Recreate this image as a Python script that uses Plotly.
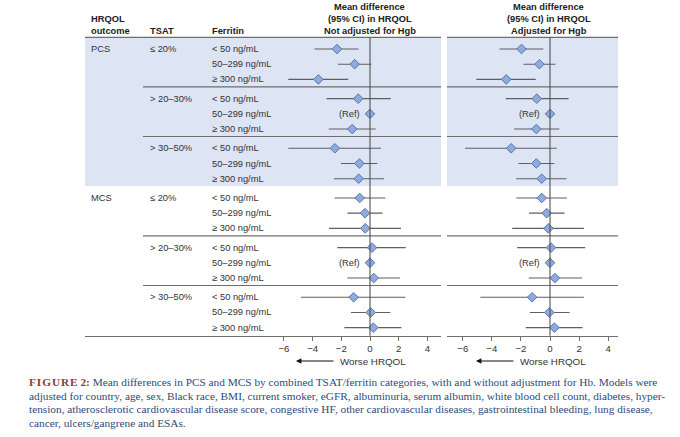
import plotly.graph_objects as go

W, H = 680, 437

# ---------------- data ----------------
outcomes = ["PCS", "MCS"]
tsat_labels = ["≤ 20%", "> 20–30%", "> 30–50%"]
ferritin_labels = ["< 50 ng/mL", "50–299 ng/mL", "≥ 300 ng/mL"]
ref_rows = [4, 13]  # TSAT >20–30%, ferritin 50–299 (reference) for PCS and MCS

# Not adjusted for Hgb (18 rows: PCS 9 rows, then MCS 9 rows)
unadj_est = [-2.30, -1.07, -3.60, -0.82, 0.00, -1.24, -2.45, -0.74, -0.79,
             -0.72, -0.35, -0.33, 0.14, 0.00, 0.26, -1.14, 0.05, 0.23]
unadj_lo = [-3.87, -2.24, -5.70, -3.03, 0.00, -2.87, -5.70, -2.03, -2.52,
            -2.47, -1.58, -2.86, -2.28, 0.00, -1.58, -4.81, -1.33, -1.79]
unadj_hi = [-0.80, 0.09, -1.52, 1.45, 0.00, 0.40, 0.77, 0.51, 0.98,
            1.07, 0.88, 2.16, 2.49, 0.00, 2.09, 2.47, 1.42, 2.19]

# Adjusted for Hgb
adj_est = [-1.96, -0.73, -3.01, -0.91, 0.00, -0.94, -2.67, -0.94, -0.57,
           -0.57, -0.23, -0.11, 0.07, 0.00, 0.34, -1.23, -0.05, 0.30]
adj_lo = [-3.47, -1.83, -5.07, -3.04, 0.00, -2.47, -5.84, -2.17, -2.33,
          -2.31, -1.44, -2.60, -2.26, 0.00, -1.46, -4.79, -1.39, -1.67]
adj_hi = [-0.46, 0.37, -0.98, 1.28, 0.00, 0.64, 0.46, 0.30, 1.14,
          1.16, 1.00, 2.33, 2.42, 0.00, 2.21, 2.33, 1.35, 2.24]

tick_vals = [-6, -4, -2, 0, 2, 4]
panel_titles = [["Mean difference", "(95% CI) in HRQOL", "Not adjusted for Hgb"],
                ["Mean difference", "(95% CI) in HRQOL", "Adjusted for Hgb"]]
caption_lines = [
    "Mean differences in PCS and MCS by combined TSAT/ferritin categories, with and without adjustment for Hb. Models were",
    "adjusted for country, age, sex, Black race, BMI, current smoker, eGFR, albuminuria, serum albumin, white blood cell count, diabetes, hyper-",
    "tension, atherosclerotic cardiovascular disease score, congestive HF, other cardiovascular diseases, gastrointestinal bleeding, lung disease,",
    "cancer, ulcers/gangrene and ESAs.",
]

# ---------------- layout constants (pixels) ----------------
SANS = "Liberation Sans, Arial, sans-serif"
SERIF = "Liberation Serif, Times New Roman, serif"
FS = 9.3
TXT = "#333333"
LINE = "#6e6e6e"
SHADE = "#dde4f3"
FILL = "#8fabdc"
EDGE = "#5676b2"

row0, row_step, grp_step = 49.0, 15.2, 49.65
top_line, axis_y = 37.3, 335.7
shade_bottom = 186.0
L0, L1, Lzero, Lppu = 85.0, 441.0, 370.0, 14.34
R0, R1, Rzero, Rppu = 447.0, 618.0, 550.0, 14.54
x_outcome, x_tsat, x_ferr = 89.0, 147.7, 210.0
x_sep = 143.0

n = len(unadj_est)
row_y = [row0 + (i // 3) * grp_step + (i % 3) * row_step for i in range(n)]


def px(x):
    return x / W


fig = go.Figure()

for est, lo, hi, xa in [(unadj_est, unadj_lo, unadj_hi, "x"), (adj_est, adj_lo, adj_hi, "x2")]:
    fig.add_trace(go.Scatter(
        x=est, y=row_y, xaxis=xa, yaxis="y", mode="markers",
        marker=dict(symbol="diamond", size=7.4, color=FILL, line=dict(color=EDGE, width=1)),
        error_x=dict(type="data", symmetric=False,
                     array=[h - e for h, e in zip(hi, est)],
                     arrayminus=[e - l for e, l in zip(est, lo)],
                     width=0, thickness=1.1, color="#5f5f5f"),
        hoverinfo="skip", showlegend=False, cliponaxis=False,
    ))

shapes = []
# shading of PCS block
for a, b in [(L0, L1), (R0, R1)]:
    shapes.append(dict(type="rect", xref="paper", yref="y", x0=px(a), x1=px(b),
                       y0=top_line, y1=shade_bottom, fillcolor=SHADE, line=dict(width=0), layer="below"))
    shapes.append(dict(type="line", xref="paper", yref="y", x0=px(a), x1=px(b),
                       y0=top_line, y1=top_line, line=dict(color=LINE, width=1.2)))
# separators between TSAT groups (within each outcome)
for g in range(5):
    if g == 2:
        continue
    ys = row0 + g * grp_step + 2 * row_step + 7.5
    for a, b in [(x_sep, L1), (R0, R1)]:
        shapes.append(dict(type="line", xref="paper", yref="y", x0=px(a), x1=px(b),
                           y0=ys, y1=ys, line=dict(color=LINE, width=1.1)))
# zero lines
for xr in ["x", "x2"]:
    shapes.append(dict(type="line", xref=xr, yref="y", x0=0, x1=0, y0=top_line, y1=axis_y,
                       line=dict(color="#505050", width=1.1)))

ann = []
def text(x, y, t, anchor="left", bold=False, size=FS, color=TXT, xref="paper", **kw):
    ann.append(dict(x=x, y=y, xref=xref, yref="y", text=f"<b>{t}</b>" if bold else t,
                    showarrow=False, xanchor=anchor, yanchor="middle",
                    font=dict(family=SANS, size=size, color=color), **kw))

# column headers
text(px(x_outcome), 19, "HRQOL", bold=True, color="#222")
text(px(x_outcome), 31, "outcome", bold=True, color="#222")
text(px(x_tsat), 31, "TSAT", bold=True, color="#222")
text(px(x_ferr), 31, "Ferritin", bold=True, color="#222")
for zero, titles in [(Lzero, panel_titles[0]), (Rzero - 1.5, panel_titles[1])]:
    for k, t in enumerate(titles):
        text(px(zero), 7.3 + 12 * k, t, anchor="center", bold=True, color="#222")

# row labels
for i in range(n):
    if i % 9 == 0:
        text(px(x_outcome), row_y[i], outcomes[i // 9])
    if i % 3 == 0:
        text(px(x_tsat), row_y[i], tsat_labels[(i // 3) % 3])
    text(px(x_ferr), row_y[i], ferritin_labels[i % 3])
for i in ref_rows:
    for xr in ["x", "x2"]:
        text(0, row_y[i], "(Ref)", anchor="right", xref=xr, xshift=-8.5)

# "Worse HRQOL" arrows
for zero in [Lzero, Rzero]:
    ann.append(dict(x=px(zero - 74), y=361, xref="paper", yref="y", text="", showarrow=True,
                    ax=39, ay=0, axref="pixel", ayref="pixel", arrowhead=2, arrowsize=0.9,
                    arrowwidth=1.2, arrowcolor="#111"))
    text(px(zero - 32), 361, "Worse HRQOL", size=9.8)

# caption
HS = "\u200a"
fig_label = HS.join("FIGURE") + " 2:"
cap_y = [382, 395.5, 409, 422.5]
for k, line in enumerate(caption_lines):
    t = line
    if k == 0:
        t = f"<span style='color:#8a3b3b'><b>{fig_label}</b></span> " + line
    ann.append(dict(x=px(27), y=cap_y[k], xref="paper", yref="y", text=t, showarrow=False,
                    xanchor="left", yanchor="middle",
                    font=dict(family=SERIF, size=11.3, color="#2d4b7b")))

axis_common = dict(showgrid=False, zeroline=False, showline=True, linecolor=LINE, linewidth=1.1,
                   ticks="outside", ticklen=4, tickcolor=LINE, tickwidth=1,
                   tickvals=tick_vals, tickfont=dict(family=SANS, size=9.6, color=TXT),
                   anchor="free", position=(H - axis_y) / H, fixedrange=True)

fig.update_layout(
    width=W, height=H, margin=dict(l=0, r=0, t=0, b=0),
    paper_bgcolor="white", plot_bgcolor="rgba(0,0,0,0)",
    xaxis=dict(domain=[px(L0), px(L1)], range=[(L0 - Lzero) / Lppu, (L1 - Lzero) / Lppu], **axis_common),
    xaxis2=dict(domain=[px(R0), px(R1)], range=[(R0 - Rzero) / Rppu, (R1 - Rzero) / Rppu], **axis_common),
    yaxis=dict(domain=[0, 1], range=[H, 0], visible=False, fixedrange=True),
    shapes=shapes, annotations=ann, showlegend=False,
)

fig.write_html("out.html", config={"displayModeBar": False},
               post_script="document.body.style.margin='0';document.body.style.overflow='hidden';")
